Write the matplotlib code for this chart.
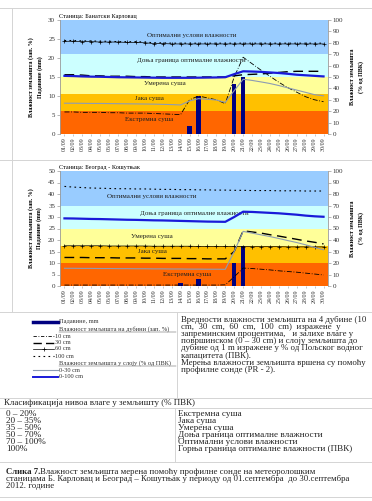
import matplotlib
matplotlib.use("Agg")
import matplotlib.pyplot as plt

plt.rcParams['font.family'] = ['Liberation Serif', 'DejaVu Serif']

# дани у септембру 2012
days = list(range(1, 31))
day_labels = [f"{d:02d}/09" for d in days]

# класе влаге (% ПВК) и боје
class_edges = [0, 20, 35, 50, 70, 100]
class_colors = ['#FF6600', '#FFC000', '#FFFF99', '#CCFFFF', '#99CCFF']

# Банатски Карловац
bk_rain = [0, 0, 0, 0, 0, 0, 0, 0, 0, 0, 0, 0, 0, 0, 2.0, 10.1, 0, 0, 0, 13.1,
           15.0, 0, 0, 0, 0, 0, 0, 0, 0, 0]
bk_10cm = [5.8, 5.8, 5.7, 5.7, 5.7, 5.6, 5.6, 5.5, 5.5, 5.5, 5.4, 5.3, 5.2, 5.1, 9.0,
           10.0, 9.5, 9.0, 8.0, 15.0, 20.2, 18.5, 16.8, 15.2, 13.6, 12.2, 11.0, 9.8, 9.0, 8.5]
bk_30cm = [15.6, 15.6, 15.5, 15.3, 15.3, 15.2, 15.2, 15.2, 15.1, 15.1, 15.0, 15.0, 15.0, 15.0, 15.0,
           15.0, 15.0, 15.0, 15.0, 15.3, 15.6, 15.7, 15.8, 16.0, 16.2, 16.4, 16.5, 16.5, 16.5, 16.5]
bk_60cm = [24.4, 24.4, 24.3, 24.3, 24.2, 24.2, 24.2, 24.1, 24.1, 24.0, 23.8, 23.8, 23.7, 23.7, 23.7,
           23.7, 23.7, 23.7, 23.7, 23.7, 23.7, 23.7, 23.7, 23.7, 23.7, 23.7, 23.7, 23.7, 23.7, 23.7]
bk_100cm = [24.6, 24.6, 24.5, 24.5, 24.4, 24.4, 24.3, 24.3, 24.3, 24.2, 24.0, 24.0, 23.9, 23.9, 23.9,
            23.9, 23.9, 23.9, 23.9, 23.9, 23.9, 23.9, 23.9, 23.9, 23.9, 23.9, 23.9, 23.9, 23.9, 23.9]
bk_0_30 = [27.0, 27.0, 26.9, 26.8, 26.8, 26.7, 26.6, 26.5, 26.4, 26.3, 26.2, 26.0, 25.8, 25.5, 29.0,
           31.0, 30.5, 29.8, 27.7, 38.0, 48.0, 47.0, 45.7, 44.3, 42.5, 40.5, 38.5, 36.5, 34.5, 33.5]
bk_0_100 = [51.0, 50.8, 50.5, 50.3, 50.2, 50.0, 49.8, 49.7, 49.6, 49.5, 49.4, 49.3, 49.3, 49.3, 49.3,
            49.4, 49.5, 49.6, 49.8, 52.5, 55.0, 54.8, 54.5, 54.0, 53.5, 52.8, 52.0, 51.5, 51.0, 50.5]

# Београд - Кошутњак
bg_rain = [0, 0, 0, 0, 0, 0, 0, 0, 0, 0, 0, 0, 0, 1.2, 0, 3.0, 0, 0, 0, 10.0,
           17.4, 0, 0, 0, 0, 0, 0, 0, 0, 0]
bg_10cm = [0.4, 0.4, 0.4, 0.4, 0.4, 0.4, 0.4, 0.4, 0.4, 0.4, 0.4, 0.4, 0.4, 0.4, 0.4,
           0.4, 0.4, 0.4, 0.5, 4.0, 7.8, 7.6, 7.3, 7.0, 6.6, 6.3, 6.0, 5.6, 5.2, 4.8]
bg_30cm = [12.4, 12.4, 12.4, 12.3, 12.3, 12.3, 12.2, 12.2, 12.2, 12.1, 12.1, 12.0, 12.0, 12.0, 11.9,
           11.9, 11.8, 11.8, 11.8, 15.0, 24.0, 23.5, 23.0, 22.3, 21.7, 21.0, 20.3, 19.6, 19.0, 18.3]
bg_60cm = [17.5, 17.5, 17.5, 17.5, 17.5, 17.4, 17.4, 17.4, 17.4, 17.4, 17.3, 17.3, 17.3, 17.3, 17.3,
           17.2, 17.2, 17.2, 17.2, 17.2, 17.1, 17.1, 17.1, 17.1, 17.1, 17.0, 17.0, 17.0, 17.0, 17.0]
bg_100cm = [43.3, 43.0, 42.8, 42.6, 42.5, 42.4, 42.3, 42.3, 42.2, 42.2, 42.1, 42.0, 42.0, 41.9, 41.9,
            41.8, 41.8, 41.7, 41.7, 41.6, 41.6, 41.5, 41.5, 41.5, 41.4, 41.4, 41.4, 41.3, 41.3, 41.3]
bg_0_30 = [15.4, 15.4, 15.3, 15.3, 15.2, 15.2, 15.1, 15.1, 15.0, 15.0, 14.9, 14.9, 14.8, 14.8, 14.7,
           14.7, 14.6, 14.6, 14.5, 30.0, 47.5, 46.0, 44.5, 43.0, 41.3, 39.5, 37.8, 35.8, 33.6, 31.5]
bg_0_100 = [58.8, 58.7, 58.5, 58.3, 58.2, 58.0, 57.8, 57.6, 57.5, 57.3, 57.1, 57.0, 56.8, 56.6, 56.4,
            56.2, 56.0, 55.9, 55.8, 60.0, 64.6, 64.4, 64.0, 63.6, 63.2, 62.6, 62.0, 61.2, 60.6, 60.2]

W, H = 372, 501
GRAY = '#9a9a9a'
TXT = '#222222'


def fig_rect(x0, y0, x1, y1):
    # пиксели (горњи леви угао) -> делови фигуре
    return [x0 / W, 1 - y1 / H, (x1 - x0) / W, (y1 - y0) / H]


def draw_chart(rect, station, ymax, rain, d10, d30, d60, d100, l030, l0100, labels):
    ax = fig.add_axes(rect)
    ax.set_xlim(0.5, 30.5)
    ax.set_ylim(0, ymax)
    k = ymax / 100.0
    for lo, hi, c in zip(class_edges[:-1], class_edges[1:], class_colors):
        ax.axhspan(lo * k, hi * k, color=c, lw=0, zorder=0)

    ax.bar(days, rain, width=0.48, color='#000080', zorder=3)
    ax.plot(days, d10, color='black', lw=0.6, dashes=(6, 2, 1, 2), zorder=4)
    ax.plot(days, d30, color='black', lw=1.0, dashes=(7, 4), zorder=4)
    ax.plot(days, d60, color='black', lw=0.5, marker='+', ms=2.5, mew=0.5, zorder=4)
    ax.plot(days, d100, color='black', lw=0.8, dashes=(1.5, 3), zorder=4)

    ax2 = ax.twinx()
    ax2.set_ylim(0, 100)
    ax2.plot(days, l030, color='#8d9cb3', lw=0.8, zorder=4)
    ax2.plot(days, l0100, color='#1a1ad9', lw=1.6, zorder=5)

    ax.set_xticks(days)
    ax.set_xticklabels(day_labels, rotation=90, fontsize=4.3)
    ax.set_yticks(range(0, ymax + 1, 5))
    ax2.set_yticks(range(0, 101, 10))
    for a in (ax, ax2):
        for s in a.spines.values():
            s.set_visible(False)
        a.tick_params(axis='y', labelsize=5, length=2, width=0.5, color=GRAY, pad=1.5,
                      labelcolor='#333333')
    ax.spines['left'].set_visible(True)
    ax.spines['left'].set_color(GRAY)
    ax.spines['left'].set_linewidth(0.6)
    ax2.spines['right'].set_visible(True)
    ax2.spines['right'].set_color(GRAY)
    ax2.spines['right'].set_linewidth(0.6)
    ax.tick_params(axis='x', length=1.5, width=0.4, color=GRAY, pad=1, labelcolor='#333333')

    ax.set_ylabel("Влажност земљишта (зап. %)\nПадавине (mm)", fontsize=4.3,
                  fontweight='bold', labelpad=4, linespacing=1.6)
    ax2.set_ylabel("Влажност земљишта\n(% од ПВК)", fontsize=4.3,
                   fontweight='bold', labelpad=5, linespacing=1.6)
    ax.text(-0.005, 1.01, "Станица: " + station, transform=ax.transAxes,
            fontsize=4.5, ha='left', va='bottom')
    for txt, x, y in labels:
        ax.text(x, y, txt, fontsize=5, ha='center', va='center', color='#202020', zorder=6)
    return ax


fig = plt.figure(figsize=(W / 100, H / 100), dpi=100)
fig.patch.set_facecolor('white')

draw_chart(fig_rect(60, 20, 328, 134), "Банатски Карловац", 30,
           bk_rain, bk_10cm, bk_30cm, bk_60cm, bk_100cm, bk_0_30, bk_0_100,
           [("Оптимални услови влажности", 15.2, 26.0),
            ("Доња граница оптималне влажности", 15.2, 19.3),
            ("Умерена суша", 12.2, 13.2),
            ("Јака суша", 10.5, 9.3),
            ("Екстремна суша", 10.5, 3.9)])

draw_chart(fig_rect(60, 171, 328, 286), "Београд - Кошутњак", 50,
           bg_rain, bg_10cm, bg_30cm, bg_60cm, bg_100cm, bg_0_30, bg_0_100,
           [("Оптимални услови влажности", 10.8, 38.8),
            ("Доња граница оптималне влажности", 15.5, 31.7),
            ("Умерена суша", 10.8, 21.4),
            ("Јака суша", 10.8, 15.2),
            ("Екстремна суша", 14.7, 5.2)])

# документ испод графикона: легенда, табела, потпис
doc = fig.add_axes([0, 0, 1, 1], zorder=-1)
doc.set_xlim(0, W)
doc.set_ylim(H, 0)
doc.axis('off')

rule = dict(color='#d4d4d4', lw=0.7)
for y in (8, 160, 312, 398, 408, 462, 497):
    doc.plot([0, W], [y, y], **rule)
doc.plot([12, 12], [8, 312], **rule)
doc.plot([177, 177], [312, 398], **rule)
doc.plot([175, 175], [408, 462], **rule)

# легенда
leg_items = [
    ('bar', "Падавине, mm", 322),
    ('head', "Влажност земљишта на дубини (зап. %)", 329),
    ('10', "10 cm", 336),
    ('30', "30 cm", 343),
    ('60', "60 cm", 349),
    ('100', "100 cm", 356),
    ('head', "Влажност земљишта у слоју (% од ПВК)", 363),
    ('l030', "0-30 cm", 370),
    ('l0100', "0-100 cm", 377),
]
styles = {
    'bar': dict(color='#000080', lw=2.5),
    '10': dict(color='black', lw=0.6, dashes=(4, 2, 1, 2)),
    '30': dict(color='black', lw=1.0, dashes=(6, 3)),
    '60': dict(color='black', lw=0.5, marker='+', ms=3, mew=0.5, markevery=[1]),
    '100': dict(color='black', lw=0.8, dashes=(1.5, 3)),
    'l030': dict(color='#8d9cb3', lw=0.8),
    'l0100': dict(color='#1a1ad9', lw=1.4),
}
for kind, txt, y in leg_items:
    if kind == 'head':
        doc.text(59, y, txt, fontsize=4.6, va='center', ha='left', color='#333333')
        doc.plot([59, 176], [y + 2.6, y + 2.6], color='#555555', lw=0.35)
        continue
    x1 = 58 if kind in ('bar', 'l030', 'l0100') else 54
    if kind == '60':
        doc.plot([33, 43.5, x1], [y, y, y], **styles[kind])
    else:
        doc.plot([33, x1], [y, y], **styles[kind])
    doc.text(x1 + 1, y, txt, fontsize=4.6, va='center', ha='left', color='#333333')

desc = [
    "Вредности влажности земљишта на 4 дубине (10",
    "cm,  30  cm,  60  cm,  100  cm)  изражене  у",
    "запреминским процентима,   и залихе влаге у",
    "површинском (0 – 30 cm) и слоју земљишта до",
    "дубине од 1 m изражене у % од Пољског водног",
    "капацитета (ПВК).",
    "Мерења влажности земљишта вршена су помоћу",
    "профилне сонде (PR - 2).",
]
for i, line in enumerate(desc):
    doc.text(181, 320 + i * 7.1, line, fontsize=6.3, va='center', ha='left', color=TXT)

doc.text(4, 403, "Класификација нивоа влаге у земљишту (% ПВК)", fontsize=6.5,
         va='center', ha='left', color=TXT)

class_ranges = ["0 – 20%", "20 – 35%", "35 – 50%", "50 – 70%", "70 – 100%", "100%"]
class_names = ["Екстремна суша", "Јака суша", "Умерена суша",
               "Доња граница оптималне влажности", "Оптимални услови влажности",
               "Горња граница оптималне влажности (ПВК)"]
for i, (r, n) in enumerate(zip(class_ranges, class_names)):
    y = 414 + i * 7
    doc.text(6, y, r, fontsize=6.6, va='center', ha='left', color=TXT)
    doc.text(178, y, n, fontsize=6.6, va='center', ha='left', color=TXT)

doc.text(6, 472, "Слика 7.", fontsize=6.3, fontweight='bold', va='center', ha='left', color=TXT)
doc.text(40, 472, "Влажност земљишта мерена помоћу профилне сонде на метеоролошким",
         fontsize=6.3, va='center', ha='left', color=TXT)
doc.text(6, 479, "станицама Б. Карловац и Београд – Кошутњак у периоду од 01.септембра  до 30.септембра",
         fontsize=6.3, va='center', ha='left', color=TXT)
doc.text(6, 486, "2012. године", fontsize=6.3, va='center', ha='left', color=TXT)

fig.savefig("out.png", dpi=100)
